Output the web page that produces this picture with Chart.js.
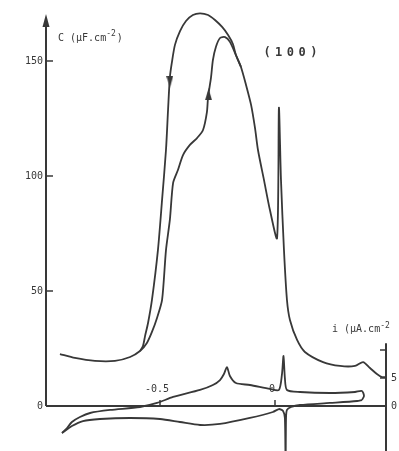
<!DOCTYPE html>
<html>
<head>
<meta charset="utf-8">
<script src="https://cdn.jsdelivr.net/npm/chart.js@4.4.0/dist/chart.umd.min.js"></script>
<style>
   html, body { margin: 0; padding: 0; background: #fff; }
</style>
</head>
<body>
<canvas id="grafica" width="399" height="451"></canvas>
<script>
// capacitance, positive-going sweep (E in V, C in uF/cm2)
const capUpE = [-0.935, -0.870, -0.783, -0.696, -0.630, -0.587, -0.557, -0.535, -0.513, -0.491,
   -0.474, -0.457, -0.443, -0.422, -0.400, -0.370, -0.339, -0.313, -0.296, -0.291, -0.278,
   -0.270, -0.257, -0.239, -0.217, -0.196, -0.170, -0.148, -0.126, -0.104, -0.087, -0.074,
   -0.048, -0.022, 0.009, 0.017, 0.026, 0.039, 0.052, 0.065, 0.096, 0.130, 0.209, 0.283,
   0.348, 0.383, 0.413, 0.443, 0.465, 0.487];
const capUpC = [22.6, 20.9, 19.6, 19.6, 21.3, 23.9, 27.4, 32.2, 38.3, 46.1,
   67.8, 81.0, 97.0, 102.6, 109.1, 113.5, 116.5, 120.0, 127.8, 134.3, 143.0,
   150.4, 156.1, 160.0, 160.4, 158.3, 152.6, 147.4, 139.6, 130.9, 120.9, 111.3,
   98.3, 85.2, 73.0, 129.6, 98.3, 67.8, 46.1, 37.4, 28.7, 23.5, 19.1, 17.4,
   17.4, 19.1, 16.5, 13.9, 12.6, 12.6];

// capacitance, negative-going sweep (outer branch)
const capDownE = [-0.148, -0.170, -0.183, -0.204, -0.230, -0.261, -0.291, -0.326, -0.357,
   -0.387, -0.413, -0.435, -0.448, -0.457, -0.465, -0.474, -0.491, -0.509, -0.535, -0.552,
   -0.565, -0.574, -0.587];
const capDownC = [147.4, 152.6, 157.4, 161.3, 164.8, 167.8, 170.0, 170.7, 170.0,
   167.4, 163.0, 157.0, 149.6, 143.0, 128.7, 111.3, 89.6, 67.8, 46.1, 36.1,
   30.4, 26.1, 23.9];

// current density, positive-going sweep (i in uA/cm2)
const curUpE = [-0.926, -0.904, -0.883, -0.848, -0.804, -0.717, -0.587, -0.513, -0.443, -0.326,
   -0.270, -0.239, -0.222, -0.209, -0.196, -0.170, -0.109, -0.022, 0.017, 0.030, 0.037,
   0.043, 0.052, 0.109, 0.239, 0.348, 0.378, 0.387, 0.378];
const curUpI = [-4.82, -3.93, -2.86, -1.96, -1.25, -0.71, -0.18, 0.54, 1.61, 2.86,
   3.75, 4.64, 5.71, 6.96, 5.36, 4.11, 3.75, 3.04, 2.86, 5.54, 8.93,
   5.0, 2.86, 2.5, 2.32, 2.5, 2.68, 1.79, 1.07];

// current density, negative-going sweep
const curDownE = [0.378, 0.357, 0.239, 0.109, 0.070, 0.052, 0.048, 0.046, 0.043, 0.035,
   0.017, -0.009, -0.109, -0.239, -0.326, -0.413, -0.500, -0.630, -0.761, -0.835, -0.883, -0.926];
const curDownI = [1.07, 0.89, 0.54, 0.18, -0.18, -0.71, -2.14, -11.4, -2.14, -0.89,
   -0.54, -1.07, -2.14, -3.21, -3.39, -2.86, -2.32, -2.14, -2.32, -2.68, -3.57, -4.82];

// sweep direction markers on the capacitance loop
const arrowE = [-0.457, -0.289];
const arrowC = [141.0, 135.5];
const arrowDir = ['down', 'up'];

// axis ticks
const capTicks = [0, 50, 100, 150];
const potTicks = [-0.5, 0];
const potTickLabels = ['-0.5', '0'];
const curTicks = [0, 5, 10];
const curTickLabels = ['0', '5', ''];

const ink = '#383838';
const pts = (xs, ys) => xs.map((x, k) => ({ x: x, y: ys[k] }));

// elongated arrowhead used as point style
const arrowImg = document.createElement('canvas');
arrowImg.width = 7;
arrowImg.height = 12;
(function () {
   const a = arrowImg.getContext('2d');
   a.fillStyle = ink;
   a.beginPath();
   a.moveTo(3.5, 0);
   a.lineTo(7, 12);
   a.lineTo(0, 12);
   a.closePath();
   a.fill();
})();

const mono = '"DejaVu Sans Mono", "Liberation Mono", monospace';

function supText(c, base, sup, x, y, size) {
   c.font = size + 'px ' + mono;
   c.fillText(base, x, y);
   const w = c.measureText(base).width;
   c.font = Math.round(size * 0.75) + 'px ' + mono;
   c.fillText(sup, x + w, y - size * 0.45);
   const w2 = c.measureText(sup).width;
   c.font = size + 'px ' + mono;
   return x + w + w2;
}

const axesPlugin = {
   id: 'axes',
   afterDraw(chart) {
      const c = chart.ctx;
      const sx = chart.scales.x, sc = chart.scales.yC, si = chart.scales.yI;
      const area = chart.chartArea;
      const x0 = area.left, y0 = sc.getPixelForValue(0);
      c.save();
      c.strokeStyle = ink;
      c.fillStyle = ink;
      c.lineWidth = 2;

      // potential axis
      c.beginPath();
      c.moveTo(x0, y0);
      c.lineTo(area.right, y0);
      c.stroke();

      // capacitance axis with arrow
      const yTop = sc.getPixelForValue(170.4);
      c.beginPath();
      c.moveTo(x0, y0);
      c.lineTo(x0, yTop + 10);
      c.stroke();
      c.beginPath();
      c.moveTo(x0, yTop);
      c.lineTo(x0 + 3.5, yTop + 13);
      c.lineTo(x0 - 3.5, yTop + 13);
      c.closePath();
      c.fill();

      // current axis
      const xr = area.right;
      c.beginPath();
      c.moveTo(xr, si.getPixelForValue(11.2));
      c.lineTo(xr, area.bottom);
      c.stroke();

      c.lineWidth = 1.5;
      c.font = '10px ' + mono;
      c.textBaseline = 'middle';

      // capacitance ticks
      c.textAlign = 'right';
      capTicks.forEach(v => {
         const y = sc.getPixelForValue(v);
         if (v > 0) {
            c.beginPath();
            c.moveTo(x0, y);
            c.lineTo(x0 + 7, y);
            c.stroke();
         }
         c.fillText(String(v), x0 - 3, y);
      });

      // potential ticks, labels above the axis
      c.textAlign = 'center';
      potTicks.forEach((v, k) => {
         const x = sx.getPixelForValue(v);
         c.beginPath();
         c.moveTo(x, y0);
         c.lineTo(x, y0 - 6);
         c.stroke();
         c.fillText(potTickLabels[k], x - 3, y0 - 17);
      });

      // current ticks
      c.textAlign = 'left';
      curTicks.forEach((v, k) => {
         const y = si.getPixelForValue(v);
         if (v > 0) {
            c.beginPath();
            c.moveTo(xr, y);
            c.lineTo(xr - 6, y);
            c.stroke();
         }
         if (curTickLabels[k]) c.fillText(curTickLabels[k], xr + 5, y);
      });

      // axis titles
      c.textBaseline = 'alphabetic';
      const yt = sc.getPixelForValue(158.7);
      const xe = supText(c, 'C (\u00b5F.cm', '-2', x0 + 12, yt, 10);
      c.fillText(')', xe + 1, yt);
      supText(c, 'i (\u00b5A.cm', '-2', 332, si.getPixelForValue(13.2), 10);

      // surface label
      c.font = 'bold 12px ' + mono;
      c.textAlign = 'center';
      c.textBaseline = 'middle';
      const lbl = '(100)';
      for (let k = 0; k < lbl.length; k++) {
         c.fillText(lbl[k], 267 + k * 11.7, sc.getPixelForValue(153.5));
      }
      c.restore();
   }
};

const lineStyle = {
   showLine: true,
   borderColor: ink,
   borderWidth: 1.8,
   pointRadius: 0,
   tension: 0.25,
   fill: false
};

const ctx = document.getElementById('grafica').getContext('2d');

const chart = new Chart(ctx, {
   type: 'scatter',
   data: {
      datasets: [
         Object.assign({ label: 'C +', data: pts(capUpE, capUpC), yAxisID: 'yC' }, lineStyle),
         Object.assign({ label: 'C -', data: pts(capDownE, capDownC), yAxisID: 'yC' }, lineStyle),
         Object.assign({ label: 'i +', data: pts(curUpE, curUpI), yAxisID: 'yI' }, lineStyle),
         Object.assign({ label: 'i -', data: pts(curDownE, curDownI), yAxisID: 'yI' }, lineStyle),
         {
            label: 'sens',
            data: pts(arrowE, arrowC),
            yAxisID: 'yC',
            showLine: false,
            pointStyle: arrowImg,
            rotation: c => arrowDir[c.dataIndex] === 'down' ? 180 : 0,
            pointRadius: 6
         }
      ]
   },
   options: {
      responsive: false,
      animation: false,
      layout: {
         autoPadding: false,
         padding: { left: 46, right: 13, top: 10, bottom: 0 }
      },
      plugins: {
         legend: { display: false },
         tooltip: { enabled: false }
      },
      scales: {
         x: { type: 'linear', min: -0.99565, max: 0.48261, display: false },
         yC: { type: 'linear', min: -19.565, max: 172.17, display: false },
         yI: { type: 'linear', min: -8.036, max: 70.714, display: false }
      }
   },
   plugins: [axesPlugin]
});
</script>
</body>
</html>
